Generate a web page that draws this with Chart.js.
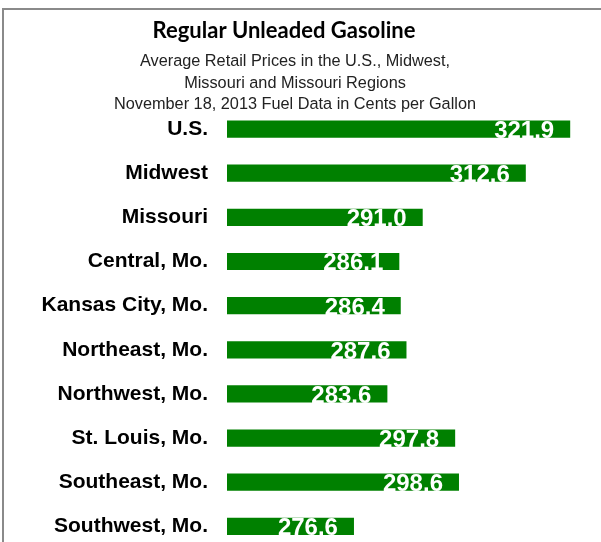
<!DOCTYPE html>
<html>
<head>
<meta charset="utf-8">
<script src="https://cdn.jsdelivr.net/npm/chart.js@4.4.1/dist/chart.umd.min.js"></script>
<style>
  html, body { margin: 0; padding: 0; background: #fff; overflow: hidden; }
  #wrap { position: relative; width: 601px; height: 542px; overflow: hidden; }
  #frame { position: absolute; left: 2px; top: 8px; width: 700px; height: 700px;
           border-left: 2px solid #8a8a8a; border-top: 2px solid #8a8a8a; }
  canvas { position: absolute; left: 0; top: 0; }
</style>
</head>
<body>
<div id="wrap">
  <div id="frame"></div>
  <canvas id="gas" width="601" height="580"></canvas>
</div>
<script>
// Regular unleaded, cents per gallon, Nov 18 2013
var regions = ["U.S.", "Midwest", "Missouri", "Central, Mo.", "Kansas City, Mo.",
               "Northeast, Mo.", "Northwest, Mo.", "St. Louis, Mo.", "Southeast, Mo.", "Southwest, Mo."];
var prices = [321.9, 312.6, 291.0, 286.1, 286.4, 287.6, 283.6, 297.8, 298.6, 276.6];

var titleText = "Regular Unleaded Gasoline";
var subtitleLines = ["Average Retail Prices in the U.S., Midwest,",
                     "Missouri and Missouri Regions",
                     "November 18, 2013 Fuel Data in Cents per Gallon"];

// titles drawn by hand so the bars can start right under them
var headerPlugin = {
  id: "header",
  afterDraw: function(chart) {
    var c = chart.ctx;
    c.save();
    c.fillStyle = "#000";
    c.textAlign = "center";
    c.textBaseline = "middle";
    c.font = "bold 22px Lato";
    c.fillText(titleText, 284, 31);
    c.fillStyle = "#222";
    c.font = "16.3px 'Liberation Sans'";
    subtitleLines.forEach(function(line, i) {
      c.fillText(line, 295, 62 + i * 21.5);
    });
    c.restore();
  }
};

// white value labels at the inside end of each bar
var valueLabels = {
  id: "valueLabels",
  afterDatasetsDraw: function(chart) {
    var c = chart.ctx;
    var meta = chart.getDatasetMeta(0);
    c.save();
    c.fillStyle = "#fff";
    c.font = "bold 24px 'Liberation Sans'";
    c.textAlign = "right";
    c.textBaseline = "alphabetic";
    meta.data.forEach(function(bar, i) {
      c.fillText(prices[i].toFixed(1), bar.x - 16, bar.y + 9);
    });
    c.restore();
  }
};

var ctx = document.getElementById("gas").getContext("2d");

new Chart(ctx, {
  type: "bar",
  data: {
    labels: regions,
    datasets: [{
      data: prices,
      backgroundColor: "#008000",
      borderWidth: 0,
      barPercentage: 0.39,
      categoryPercentage: 1
    }]
  },
  options: {
    indexAxis: "y",
    responsive: false,
    animation: false,
    layout: {
      padding: { top: 107, right: 16, bottom: 12, left: 0 }
    },
    plugins: {
      legend: { display: false },
      tooltip: { enabled: false },
      title: { display: false }
    },
    scales: {
      x: {
        type: "linear",
        min: 250,
        max: 325,
        display: false
      },
      y: {
        afterFit: function(scale) { scale.width = 227; },
        grid: { display: false, drawTicks: false },
        border: { display: false },
        ticks: {
          color: "#000",
          padding: 19,
          font: { family: "Liberation Sans", size: 21, weight: "bold" }
        }
      }
    }
  },
  plugins: [headerPlugin, valueLabels]
});
</script>
</body>
</html>
